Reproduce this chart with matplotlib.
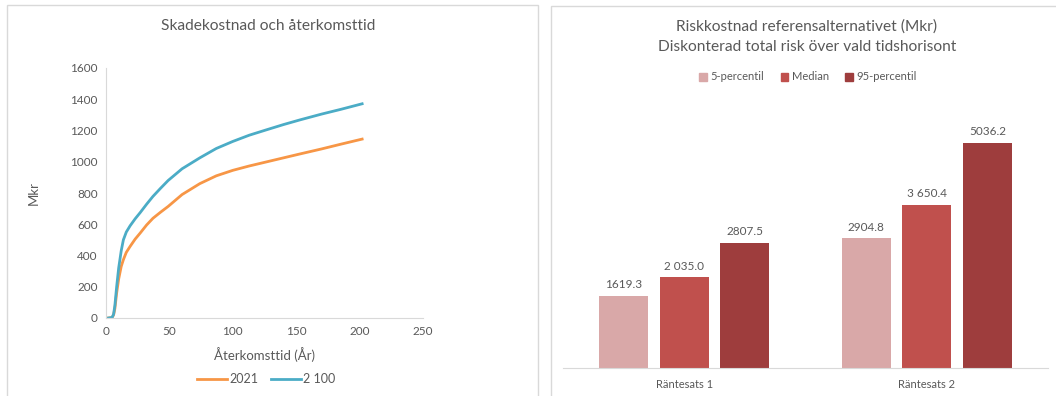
import matplotlib
matplotlib.use('Agg')
import matplotlib.pyplot as plt
from matplotlib.patches import Rectangle
from matplotlib.lines import Line2D
import numpy as np

plt.rcParams['font.family'] = ['Lato', 'DejaVu Sans']

# Left chart: damage cost vs return period
years = [2, 4, 5, 6, 7, 8.4, 10, 12, 13.7, 16, 19, 23, 27, 32, 37, 43, 49, 60, 74, 87, 100, 113, 126, 140, 153, 170, 185, 202]
cost_2021 = [0, 2, 6, 20, 60, 160, 250, 330, 373, 420, 458, 505, 544, 595, 638, 677, 714, 790, 860, 910, 945, 973, 998, 1025, 1050, 1082, 1112, 1145]
cost_2100 = [0, 2, 6, 25, 80, 200, 320, 430, 500, 550, 590, 635, 675, 728, 778, 830, 880, 955, 1025, 1085, 1130, 1170, 1203, 1238, 1268, 1305, 1335, 1371]
series_names = ['2021', '2 100']
line_colors = ['#F79646', '#4BACC6']

# Right chart: risk cost bars
categories = ['Räntesats 1', 'Räntesats 2']
bar_series = ['5-percentil', 'Median', '95-percentil']
bar_values = [[1619.3, 2904.8], [2035.0, 3650.4], [2807.5, 5036.2]]
bar_labels = [['1619.3', '2904.8'], ['2 035.0', '3 650.4'], ['2807.5', '5036.2']]
bar_colors = ['#D9A8A8', '#C0504D', '#9E3D3D']

grey = '#595959'
spine_c = '#D9D9D9'

fig = plt.figure(figsize=(10.56, 3.96), dpi=100)
W, H = 1056, 396

def px(x0, y0, x1, y1):
    return [x0 / W, 1 - y1 / H, (x1 - x0) / W, (y1 - y0) / H]

# panel borders
for (x0, y0, x1, y1) in [(7, 5, 538, 400), (551, 6, 1060, 400)]:
    fig.patches.append(Rectangle((x0 / W, 1 - y1 / H), (x1 - x0) / W, (y1 - y0) / H,
                                 transform=fig.transFigure, fill=False,
                                 edgecolor=spine_c, linewidth=1.0))

# ---- left chart
ax1 = fig.add_axes(px(106, 68, 423, 318))
ax1.plot(years, cost_2021, color=line_colors[0], linewidth=2, label=series_names[0])
ax1.plot(years, cost_2100, color=line_colors[1], linewidth=2, label=series_names[1])
ax1.set_xlim(0, 250)
ax1.set_ylim(0, 1600)
ax1.set_xticks(range(0, 251, 50))
ax1.set_yticks(range(0, 1601, 200))
for s in ['top', 'right']:
    ax1.spines[s].set_visible(False)
for s in ['left', 'bottom']:
    ax1.spines[s].set_color(spine_c)
ax1.tick_params(length=0, labelsize=8.5, colors=grey, pad=6)
ax1.set_xlabel('Återkomsttid (År)', fontsize=9.5, color=grey, labelpad=7)
ax1.set_ylabel('Mkr', fontsize=9.5, color=grey, labelpad=22)
fig.text(268 / W, 1 - 26 / H, 'Skadekostnad och återkomsttid', ha='center', va='center',
         fontsize=11.2, color=grey)
handles = [Line2D([], [], color=c, linewidth=2) for c in line_colors]
fig.legend(handles, series_names, loc='center', bbox_to_anchor=(266 / W, 1 - 379 / H),
           ncol=2, frameon=False, fontsize=9, labelcolor=grey, handlelength=2.4,
           handletextpad=0.2, columnspacing=1.0)

# ---- right chart
ax2 = fig.add_axes(px(563, 100, 1048, 368))
x = np.arange(len(categories))
offsets = [-0.25, 0, 0.25]
for i in range(len(bar_series)):
    bars = ax2.bar(x + offsets[i], bar_values[i], width=0.202, color=bar_colors[i],
                   label=bar_series[i])
    ax2.bar_label(bars, labels=bar_labels[i], padding=4, fontsize=8.5, color=grey)
ax2.set_xlim(-0.5, 1.5)
ax2.set_ylim(0, 6000)
ax2.set_yticks([])
ax2.set_xticks(x)
ax2.set_xticklabels(categories)
for s in ['top', 'right', 'left']:
    ax2.spines[s].set_visible(False)
ax2.spines['bottom'].set_color(spine_c)
ax2.tick_params(length=0, labelsize=8, colors=grey, pad=8)
fig.text(807 / W, 1 - 27 / H, 'Riskkostnad referensalternativet (Mkr)', ha='center',
         va='center', fontsize=11.2, color=grey)
fig.text(807 / W, 1 - 47 / H, 'Diskonterad total risk över vald tidshorisont', ha='center',
         va='center', fontsize=11.2, color=grey)
sq = [Rectangle((0, 0), 1, 1, color=c) for c in bar_colors]
fig.legend(sq, bar_series, loc='center', bbox_to_anchor=(808 / W, 1 - 77 / H), ncol=3,
           frameon=False, fontsize=8, labelcolor=grey, handlelength=0.7, handleheight=0.7,
           handletextpad=0.3, columnspacing=1.5)

fig.savefig('out.png', dpi=100)
